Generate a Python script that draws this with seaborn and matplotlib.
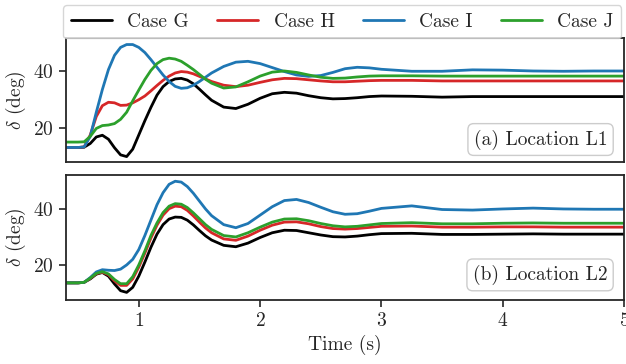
import matplotlib
matplotlib.use("Agg")
import matplotlib.pyplot as plt
import seaborn as sns
import pandas as pd

# time samples (s)
time = [0.40, 0.50, 0.55, 0.60, 0.65, 0.70, 0.75, 0.80, 0.85, 0.90, 0.95,
        1.00, 1.05, 1.10, 1.15, 1.20, 1.25, 1.30, 1.35, 1.40, 1.45, 1.50,
        1.55, 1.60, 1.70, 1.80, 1.90, 2.00, 2.10, 2.20, 2.30, 2.40, 2.50,
        2.60, 2.70, 2.80, 2.90, 3.00, 3.25, 3.50, 3.75, 4.00, 4.25, 4.50,
        4.75, 5.00]

cases = ["Case G", "Case H", "Case I", "Case J"]
colors = ["black", "tab:red", "tab:blue", "tab:green"]

# (a) Location L1
l1_g = [13.1, 13.1, 13.2, 14.5, 16.8, 17.4, 16.0, 13.0, 10.5, 9.9, 12.5,
        17.5, 22.5, 27.2, 31.5, 34.5, 36.3, 37.2, 37.4, 36.8, 35.5, 33.6,
        31.6, 29.7, 27.3, 26.8, 28.3, 30.4, 32.0, 32.5, 32.2, 31.3, 30.6,
        30.2, 30.3, 30.6, 31.0, 31.2, 31.1, 30.8, 31.0, 31.0, 31.0, 31.0,
        31.0, 31.0]
l1_h = [13.1, 13.1, 13.3, 17.5, 24.0, 27.8, 29.0, 28.8, 27.9, 28.0, 28.8,
        29.9, 31.2, 33.0, 34.9, 36.7, 38.2, 39.3, 39.8, 39.6, 39.0, 38.1,
        37.2, 36.3, 35.0, 34.5, 35.0, 36.0, 36.9, 37.4, 37.3, 36.9, 36.5,
        36.2, 36.2, 36.4, 36.6, 36.7, 36.7, 36.5, 36.5, 36.5, 36.5, 36.5,
        36.5, 36.5]
l1_i = [13.1, 13.1, 13.3, 17.0, 25.5, 33.5, 40.5, 45.5, 48.3, 49.3, 49.3,
        48.3, 46.5, 44.0, 41.3, 38.6, 36.3, 34.6, 33.9, 34.1, 35.0, 36.3,
        37.8, 39.3, 41.6, 43.1, 43.4, 42.6, 41.2, 39.8, 38.6, 38.1, 38.4,
        39.5, 40.8, 41.3, 41.1, 40.6, 39.9, 39.9, 40.4, 40.3, 40.0, 39.9,
        40.0, 40.0]
l1_j = [15.0, 15.0, 15.1, 17.0, 19.8, 20.8, 21.0, 21.5, 23.0, 25.5, 29.5,
        33.3, 37.0, 40.2, 42.6, 44.0, 44.5, 44.2, 43.4, 42.0, 40.5, 38.8,
        37.1, 35.7, 34.0, 34.4, 36.2, 38.2, 39.6, 40.0, 39.5, 38.6, 37.8,
        37.4, 37.5, 37.9, 38.2, 38.3, 38.3, 38.2, 38.2, 38.2, 38.2, 38.2,
        38.2, 38.2]

# (b) Location L2
l2_g = [13.6, 13.6, 13.8, 15.0, 16.7, 17.3, 16.0, 13.2, 10.8, 10.2, 12.0,
        16.0, 21.0, 26.3, 31.0, 34.4, 36.4, 37.1, 37.0, 36.0, 34.3, 32.3,
        30.4, 28.9, 27.0, 26.5, 27.8, 29.8, 31.5, 32.4, 32.3, 31.5, 30.7,
        30.1, 30.0, 30.3, 30.8, 31.2, 31.3, 30.9, 30.9, 31.0, 31.1, 31.0,
        31.0, 31.0]
l2_h = [13.6, 13.6, 13.8, 15.2, 16.9, 17.4, 16.5, 14.3, 12.7, 12.7, 15.0,
        19.2, 24.2, 29.6, 34.2, 37.8, 40.1, 41.0, 40.8, 39.5, 37.5, 35.3,
        33.2, 31.5, 29.3, 28.8, 30.3, 32.4, 34.2, 35.3, 35.4, 34.7, 33.7,
        33.0, 32.8, 33.0, 33.4, 33.8, 33.9, 33.5, 33.5, 33.6, 33.6, 33.5,
        33.5, 33.5]
l2_i = [13.6, 13.6, 13.8, 15.5, 17.5, 18.3, 18.1, 18.0, 18.5, 20.0, 22.0,
        25.5, 30.5, 36.0, 41.5, 45.8, 48.8, 49.9, 49.6, 48.0, 45.6, 42.8,
        40.0, 37.6, 34.4, 33.3, 34.8, 37.8, 40.8, 43.0, 43.4, 42.3, 40.6,
        39.0, 38.1, 38.3, 39.2, 40.2, 41.1, 39.8, 39.6, 40.0, 40.3, 40.0,
        39.9, 39.9]
l2_j = [13.6, 13.6, 13.8, 15.3, 17.0, 17.6, 16.8, 14.8, 13.3, 13.3, 15.8,
        20.0, 25.0, 30.5, 35.0, 38.7, 41.0, 41.9, 41.7, 40.5, 38.6, 36.5,
        34.4, 32.7, 30.5, 30.0, 31.5, 33.5, 35.3, 36.4, 36.5, 35.8, 34.8,
        34.0, 33.6, 33.8, 34.3, 34.8, 35.1, 34.7, 34.7, 34.9, 35.0, 34.9,
        34.9, 34.9]

panel_labels = ["(a) Location L1", "(b) Location L2"]

sns.set_theme(style="ticks")
plt.rcParams["font.family"] = ["cmr10", "DejaVu Serif"]
plt.rcParams["mathtext.fontset"] = "cm"
plt.rcParams["axes.formatter.use_mathtext"] = True
plt.rcParams["axes.unicode_minus"] = False

FS = 14

fig = plt.figure(figsize=(6.26, 3.64), dpi=100)
ax1 = fig.add_axes([0.1054, 0.555, 0.8916, 0.3406])
ax2 = fig.add_axes([0.1054, 0.176, 0.8916, 0.343])

panels = [
    (ax1, [l1_g, l1_h, l1_i, l1_j], (8.0, 51.6), 0.10),
    (ax2, [l2_g, l2_h, l2_i, l2_j], (7.5, 52.1), 0.12),
]

for (ax, series, ylim, ty), lab in zip(panels, panel_labels):
    df = pd.DataFrame({"t": time})
    for name, vals, c in zip(cases, series, colors):
        df[name] = vals
        sns.lineplot(data=df, x="t", y=name, ax=ax, color=c, lw=2, label=name)
    ax.set_xlim(0.4, 5)
    ax.set_ylim(*ylim)
    ax.set_yticks([20, 40])
    ax.set_ylabel(r"$\delta$ (deg)", fontsize=FS)
    ax.set_xlabel("")
    ax.tick_params(labelsize=FS, width=1.2, length=5, color="0.15")
    for s in ax.spines.values():
        s.set_linewidth(1.3)
        s.set_color("0.15")
    ax.text(0.97, ty, lab, transform=ax.transAxes, ha="right", va="bottom",
            fontsize=FS,
            bbox=dict(boxstyle="round,pad=0.3", fc="white", ec="0.8", lw=1))
    ax.get_legend().remove()

ax1.set_xticks([1, 2, 3, 4, 5])
ax1.tick_params(bottom=False, labelbottom=False)
ax2.set_xticks([1, 2, 3, 4, 5])
ax2.set_xlabel("Time (s)", fontsize=FS)

handles, labels = ax1.get_legend_handles_labels()
fig.legend(handles, labels, loc="upper right", bbox_to_anchor=(0.999, 0.997),
           ncol=4, fontsize=FS, frameon=True, edgecolor="0.8",
           handlelength=2.1, handletextpad=0.8, columnspacing=1.45,
           borderaxespad=0.2, borderpad=0.4)

fig.savefig("out.png", dpi=100)
